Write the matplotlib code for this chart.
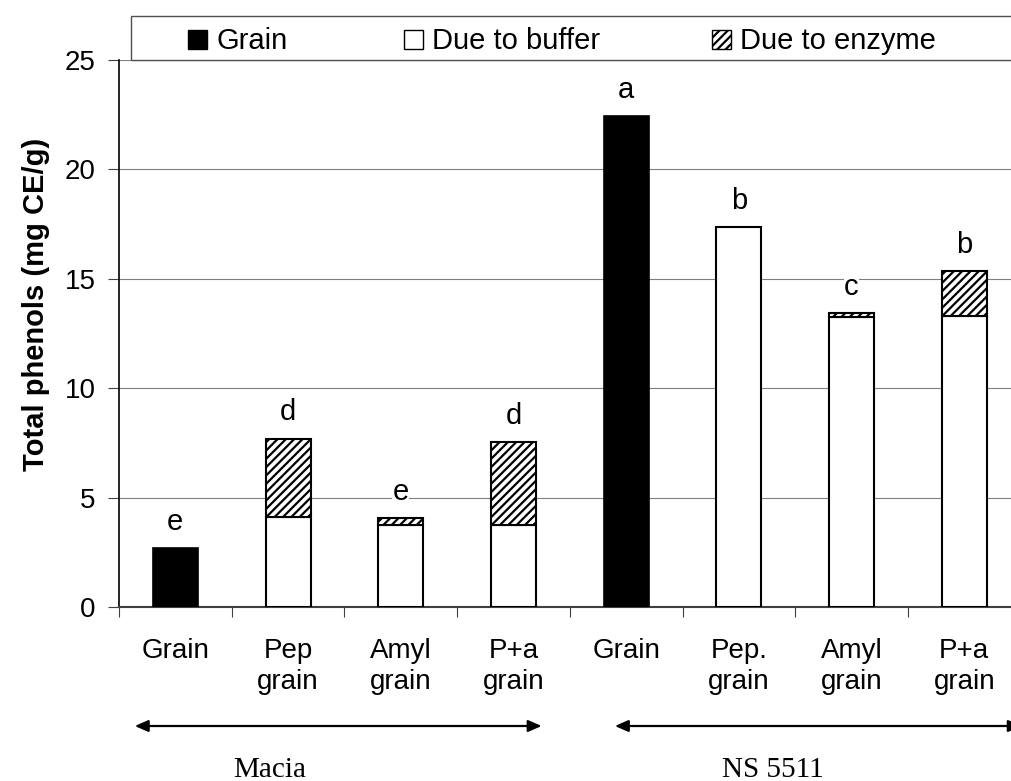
import matplotlib
matplotlib.use("Agg")
import matplotlib.pyplot as plt
from matplotlib.patches import Rectangle
from matplotlib.transforms import blended_transform_factory
import numpy as np

plt.rcParams['font.family'] = ['Liberation Sans', 'DejaVu Sans']
plt.rcParams['hatch.linewidth'] = 1.6
plt.rcParams['hatch.color'] = 'black'

# Treatments on the x axis (two sorghum varieties, four treatments each)
categories = ["Grain", "Pep\ngrain", "Amyl\ngrain", "P+a\ngrain",
              "Grain", "Pep.\ngrain", "Amyl\ngrain", "P+a\ngrain"]
grain_vals = [2.68, 0, 0, 0, 22.45, 0, 0, 0]
buffer_vals = [0, 4.1, 3.75, 3.75, 0, 17.37, 13.25, 13.3]
enzyme_vals = [0, 3.6, 0.3, 3.78, 0, 0, 0.2, 2.05]
letters = ["e", "d", "e", "d", "a", "b", "c", "b"]
varieties = ["Macia", "NS 5511"]
legend_labels = ["Grain", "Due to buffer", "Due to enzyme"]
y_ticks = [0, 5, 10, 15, 20, 25]

W, H = 1011, 781
fig = plt.figure(figsize=(W / 100, H / 100), dpi=100)


def fx(px):
    return px / W


def fy(py):
    return 1 - py / H


cat_w = 112.7
ax_left, ax_right, ax_top, ax_bot = 119, 1011, 60, 607
ax = fig.add_axes([fx(ax_left), fy(ax_bot), fx(ax_right - ax_left),
                   (ax_bot - ax_top) / H])

x = np.arange(len(categories))
grain = np.array(grain_vals)
buf = np.array(buffer_vals)
enz = np.array(enzyme_vals)
bw = 0.4

m = grain > 0
ax.bar(x[m], grain[m], width=bw, color='black', edgecolor='black',
       linewidth=1.2, zorder=3)
m = buf > 0
ax.bar(x[m], buf[m], width=bw, facecolor='white', edgecolor='black',
       linewidth=1.5, zorder=3)
m = enz > 0
ax.bar(x[m], enz[m], bottom=buf[m], width=bw, facecolor='white',
       edgecolor='black', hatch='////', linewidth=1.5, zorder=3)

totals = grain + buf + enz
for xi, t, lab in zip(x, totals, letters):
    ax.annotate(lab, (xi, t), xytext=(0, 13), textcoords='offset points',
                ha='center', va='baseline', fontsize=21, zorder=4,
                bbox=dict(facecolor='white', edgecolor='none', pad=0.5))

ax.set_xlim(-0.5, -0.5 + (ax_right - ax_left) / cat_w)
ax.set_ylim(0, 25)
ax.set_yticks(y_ticks)
ax.set_yticklabels([str(v) for v in y_ticks], fontsize=20)
ax.yaxis.grid(True, color='#7f7f7f', linewidth=0.8, zorder=0)
ax.set_axisbelow(True)

ax.set_xticks(x)
ax.set_xticklabels(categories, fontsize=20, linespacing=1.25)
ax.set_xticks(np.arange(-0.5, 7.0, 1.0), minor=True)
ax.tick_params(axis='x', which='major', length=0, pad=22)
ax.tick_params(axis='x', which='minor', length=7.5, width=0.8,
               color='#404040', direction='out')
ax.tick_params(axis='y', length=8, width=0.8, color='#404040', pad=9)

for s in ['top', 'right']:
    ax.spines[s].set_visible(False)
ax.spines['left'].set_linewidth(1.2)
ax.spines['left'].set_color('black')
ax.spines['bottom'].set_linewidth(1.5)
ax.spines['bottom'].set_color('#404040')

ax.set_ylabel("Total phenols (mg CE/g)", fontsize=21, fontweight='bold')
ax.yaxis.set_label_coords((50 - ax_left) / (ax_right - ax_left),
                          (ax_bot - 304) / (ax_bot - ax_top))

# Legend frame across the top of the plot
leg_top, leg_bot = 16, 60
fig.patches.append(Rectangle((fx(131), fy(leg_bot)), fx(1011 - 131 + 20),
                             (leg_bot - leg_top) / H, transform=fig.transFigure,
                             facecolor='white', edgecolor='#505050',
                             linewidth=1.0, zorder=5))
legend_styles = [dict(facecolor='black', edgecolor='black', hatch=None),
                 dict(facecolor='white', edgecolor='black', hatch=None),
                 dict(facecolor='white', edgecolor='black', hatch='////')]
marker_x = [188, 404, 712]
base = 49
for mx, lab, st in zip(marker_x, legend_labels, legend_styles):
    fig.patches.append(Rectangle((fx(mx), fy(base)), fx(19), 19 / H,
                                 transform=fig.transFigure, linewidth=1.0,
                                 zorder=6, **st))
    fig.text(fx(mx + 28), fy(base), lab, fontsize=21, ha='left',
             va='baseline', zorder=7)

# Variety brackets below the category labels
trans = blended_transform_factory(ax.transData, fig.transFigure)
spans = [(-0.36, 3.25), (3.90, 7.51)]
name_x = [0.84, 5.30]
for (a, b), nx, name in zip(spans, name_x, varieties):
    ax.annotate("", xy=(a, fy(726)), xytext=(b, fy(726)),
                xycoords=trans, textcoords=trans, annotation_clip=False,
                arrowprops=dict(arrowstyle='<|-|>,head_length=0.8,head_width=0.35',
                                color='black', linewidth=1.6,
                                shrinkA=0, shrinkB=0))
    ax.text(nx, fy(777), name, transform=trans, ha='center', va='baseline',
            fontsize=21, family='Liberation Serif', clip_on=False)

fig.savefig("out.png", dpi=100)
